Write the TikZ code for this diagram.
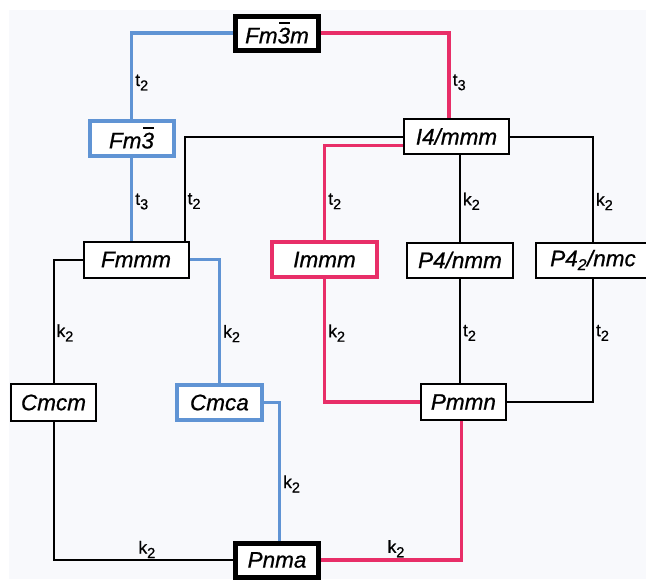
\documentclass[tikz,border=0pt]{standalone}
\usepackage{fontspec}
\setmainfont{Liberation Sans}
\newfontfamily\heavyfont[FakeBold=0.7]{Liberation Sans}
\usepackage{tikz}

\definecolor{bgcol}{RGB}{248,249,252}
\definecolor{blueline}{RGB}{96,148,212}
\definecolor{redline}{RGB}{232,46,104}
\newcommand{\ovthree}{\makebox[0pt][l]{\hspace{0.07em}\rule[0.86em]{0.48em}{0.075em}}3}
\newcommand{\lsub}[1]{\raisebox{-4.5pt}{\fontsize{14.5}{15}\selectfont #1}}

\begin{document}
\begin{tikzpicture}[x=1pt,y=-1pt,
	grp/.style={draw,fill=white,line width=2pt,inner sep=0pt,minimum width=84pt,minimum height=36pt,font=\heavyfont\fontsize{22.5}{25}\selectfont\itshape},
	topgrp/.style={grp,line width=5pt,minimum width=83pt,minimum height=34pt},
	bluegrp/.style={grp,draw=blueline,line width=4pt,minimum height=35pt},
	redgrp/.style={grp,draw=redline,line width=4pt,minimum height=35pt},
	bl/.style={line width=2pt},
	blu/.style={draw=blueline,line width=3.5pt},
	rd/.style={draw=redline,line width=3.5pt},
	lbl/.style={font=\heavyfont\fontsize{17.5}{19}\selectfont,inner sep=2pt}
	]
	\useasboundingbox (0,0) rectangle (646,579);
	\fill[bgcol] (9,10) rectangle (646,579);
	% boxes
	\node[topgrp] (fm3m) at (277,33) {Fm\ovthree m};
	\node[bluegrp] (fm3) at (131.5,138) {Fm\ovthree};
	\node[grp,minimum width=105pt,minimum height=35pt] (i4) at (456.5,136.5) {I4/mmm};
	\node[grp,minimum width=105pt] (fmmm) at (136,259.5) {Fmmm};
	\node[redgrp,minimum width=105pt] (immm) at (324.5,259.5) {Immm};
	\node[grp,minimum width=106pt,minimum height=35pt] (p4) at (460,260) {P4/nmm};
	\node[grp,minimum width=115pt,minimum height=35pt] (p42) at (593,260) {P4\textsubscript{2}/nmc};
	\node[grp,minimum width=84.5pt,minimum height=37pt] (cmcm) at (53.5,402.5) {Cmcm};
	\node[bluegrp,minimum width=85pt] (cmca) at (219.4,402.5) {Cmca};
	\node[grp,minimum width=85pt] (pmmn) at (463.4,402) {Pmmn};
	\node[topgrp] (pnma) at (277,560) {Pnma};
	% connectors
	\draw[blu] (fm3m.west) -| (fm3.north) node[lbl,anchor=west,pos=0.79] (l1) {t\lsub{2}};
	\draw[rd] (fm3m.east) -| ([xshift=-7.5pt]i4.north) node[lbl,anchor=west,pos=0.79] (l2) {t\lsub{3}};
	\draw[blu] (fm3.south) -- (fm3.south |- fmmm.north) node[lbl,anchor=west,pos=0.53] (l3) {t\lsub{3}};
	\draw[bl] (i4.west) -| ([xshift=48.6pt]fmmm.north) node[lbl,anchor=west,pos=0.81] (l4) {t\lsub{2}};
	\draw[rd] ([yshift=-9pt]i4.west) -| (immm.north) node[lbl,anchor=west,pos=0.795] (l5) {t\lsub{2}};
	\draw[bl] (p4.north |- i4.south) -- (p4.north) node[lbl,anchor=west,pos=0.535] (l6) {k\lsub{2}};
	\draw[bl] (i4.east) -| (p42.north) node[lbl,anchor=west,pos=0.81] (l7) {k\lsub{2}};
	\draw[bl] (fmmm.west) -| (cmcm.north) node[lbl,anchor=west,pos=0.797] (l8) {k\lsub{2}};
	\draw[blu] (fmmm.east) -| (cmca.north) node[lbl,anchor=west,pos=0.8] (l9) {k\lsub{2}};
	\draw[rd] (immm.south) |- (pmmn.west) node[lbl,anchor=west,pos=0.22] (l10) {k\lsub{2}};
	\draw[bl] (p4.south) -- (p4.south |- pmmn.north) node[lbl,anchor=west,pos=0.52] (l11) {t\lsub{2}};
	\draw[bl] (p42.south) |- (pmmn.east) node[lbl,anchor=west,pos=0.22] (l12) {t\lsub{2}};
	\draw[blu] (cmca.east) -| ([xshift=2.4pt]pnma.north) node[lbl,anchor=west,pos=0.795] (l13) {k\lsub{2}};
	\draw[bl] (cmcm.south) |- (pnma.west) node[lbl,anchor=south,pos=0.76,inner sep=1pt] (l14) {k\lsub{2}};
	\draw[rd] ([xshift=-2pt]pmmn.south) |- (pnma.east) node[lbl,anchor=south,pos=0.733,inner sep=1pt] (l15) {k\lsub{2}};
\end{tikzpicture}
\end{document}
